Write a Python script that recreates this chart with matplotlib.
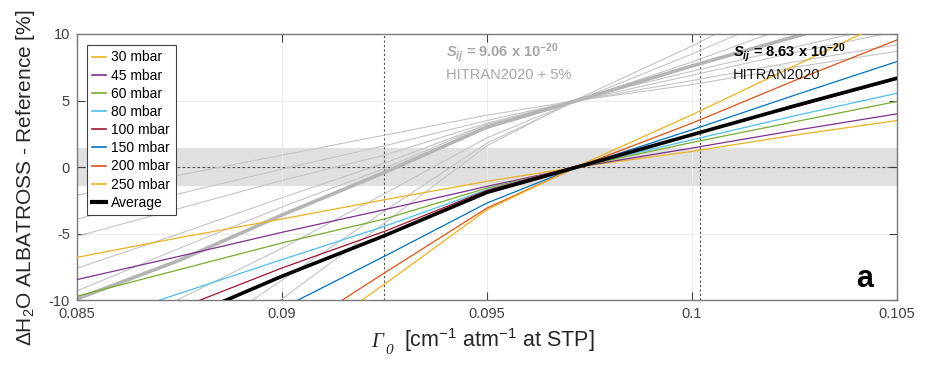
import numpy as np
import matplotlib
matplotlib.use('Agg')
import matplotlib.pyplot as plt

plt.rcParams['font.family'] = ['Liberation Sans', 'DejaVu Sans']
plt.rcParams['mathtext.fontset'] = 'custom'
plt.rcParams['mathtext.rm'] = 'Liberation Sans'
plt.rcParams['mathtext.it'] = 'Liberation Sans:italic'
plt.rcParams['mathtext.bf'] = 'Liberation Sans:bold'
plt.rcParams['mathtext.bfit'] = 'Liberation Sans:italic:bold'
plt.rcParams['axes.unicode_minus'] = False

gamma0 = [0.085, 0.0875, 0.09, 0.0925, 0.095, 0.0972, 0.1, 0.1025, 0.105]

pressures = ['30 mbar', '45 mbar', '60 mbar', '80 mbar', '100 mbar',
             '150 mbar', '200 mbar', '250 mbar']
colors = ['#EDB120', '#7E2F8E', '#77AC30', '#4DBEEE', '#A2142F',
          '#0072BD', '#D95319', '#EDB120']

# HITRAN2020 (S = 8.63e-20), delta H2O [%]
d30 = [-6.78, -5.3, -3.9, -2.45, -1.07, 0.0, 1.18, 2.4, 3.5]
d45 = [-8.45, -6.7, -4.9, -3.2, -1.45, 0.0, 1.43, 2.75, 4.0]
d60 = [-9.7, -7.7, -5.7, -3.9, -1.58, 0.0, 1.85, 3.4, 4.93]
d80 = [-12.0, -9.5, -6.95, -4.45, -1.7, 0.05, 2.05, 3.85, 5.55]
d100 = [-13.6, -10.6, -7.58, -4.83, -1.75, 0.1, 2.45, 4.5, 6.6]
d150 = [-18.5, -14.2, -10.6, -6.7, -2.7, 0.0, 2.8, 5.4, 7.93]
d200 = [-23.0, -17.8, -12.9, -7.95, -3.08, 0.0, 3.3, 6.5, 9.55]
d250 = [-25.0, -19.5, -14.2, -8.8, -3.2, 0.05, 3.93, 7.6, 11.3]
d_avg = [-14.8, -11.5, -8.2, -5.15, -1.9, 0.0, 2.43, 4.6, 6.68]

# HITRAN2020 + 5% (S = 9.06e-20)
g30 = [-2.1, -0.6, 0.9, 2.4, 3.9, 5.0, 6.2, 7.5, 8.7]
g45 = [-3.9, -2.0, -0.15, 1.6, 3.5, 5.0, 6.5, 7.9, 9.2]
g60 = [-5.2, -3.1, -1.0, 0.9, 3.3, 5.0, 6.9, 8.6, 10.2]
g80 = [-7.6, -5.0, -2.3, 0.3, 3.2, 5.1, 7.2, 9.0, 10.8]
g100 = [-9.3, -6.1, -3.0, -0.1, 3.2, 5.1, 7.6, 9.7, 11.9]
g150 = [-14.4, -9.9, -6.1, -2.0, 2.2, 5.0, 7.9, 10.7, 13.3]
g200 = [-19.2, -13.7, -8.5, -3.3, 1.8, 5.0, 8.5, 11.8, 15.0]
g250 = [-21.3, -15.5, -9.9, -4.2, 1.6, 5.1, 9.1, 13.0, 16.9]
g_avg = [-9.9, -7.0, -3.6, -0.4, 3.0, 5.0, 7.6, 9.8, 12.0]

hitran = [d30, d45, d60, d80, d100, d150, d200, d250]
hitran5 = [g30, g45, g60, g80, g100, g150, g200, g250]

band = 1.45           # grey uncertainty band [%]
gamma_marks = [0.0925, 0.1002]

fig = plt.figure(figsize=(9.25, 3.76), dpi=100)
ax = fig.add_axes([0.0832, 0.2016, 0.8865, 0.708])

ax.axhspan(-band, band, color='#E0E0E0', lw=0, zorder=0)
for yg in [-5, 5]:
    ax.axhline(yg, color='#EBEBEB', lw=0.7, zorder=0.5)
for xg in [0.09, 0.095, 0.1]:
    ax.axvline(xg, color='#EBEBEB', lw=0.7, zorder=0.5)

ax.axhline(0, color='#505050', lw=0.8, ls=(0, (2.5, 2)), zorder=1)
for xm in gamma_marks:
    ax.axvline(xm, color='#505050', lw=0.8, ls=(0, (2, 2)), zorder=1)

for g in hitran5:
    ax.plot(gamma0, g, color='#C4C4C4', lw=0.8, zorder=2)
ax.plot(gamma0, g_avg, color='#B4B4B4', lw=2.6, zorder=2.1)

for d, c, lab in zip(hitran, colors, pressures):
    ax.plot(gamma0, d, color=c, lw=0.9, label=lab, zorder=3)
ax.plot(gamma0, d_avg, color='black', lw=2.6, label='Average', zorder=4)

ax.set_xlim(0.085, 0.105)
ax.set_ylim(-10, 10)
ax.set_xticks([0.085, 0.09, 0.095, 0.1, 0.105])
ax.set_xticklabels(['0.085', '0.09', '0.095', '0.1', '0.105'])
ax.set_yticks([-10, -5, 0, 5, 10])
ax.tick_params(direction='in', length=6, width=0.8, top=True, right=True,
               labelsize=10.5, colors='#404040', pad=5)
for s in ax.spines.values():
    s.set_color('#7A7A7A')
    s.set_linewidth(1.0)

# x label: italic serif Gamma_0 followed by the units in sans
fig.text(0.401, 0.077, '\u0393', family='Liberation Serif', style='italic',
         fontsize=15, color='#262626', va='baseline')
fig.text(0.4165, 0.058, '0', family='Liberation Serif', style='italic',
         fontsize=11, color='#262626', va='baseline')
fig.text(0.4368, 0.077, '[cm$^{\\mathrm{-1}}$ atm$^{\\mathrm{-1}}$ at STP]', fontsize=15.5,
         color='#262626', va='baseline')

ax.set_ylabel(r'$\Delta$H$_2$O ALBATROSS - Reference [%]', fontsize=15, color='#262626')
ax.yaxis.set_label_coords(-0.049, 0.46)

ax.text(0.0940, 8.6, r'$\mathbfit{S}_{\mathbfit{ij}}$ = 9.06 x 10$^{\mathbf{-20}}$',
        color='#A6A6A6', fontsize=10.5, fontweight='bold', va='center')
ax.text(0.0940, 6.95, 'HITRAN2020 + 5%', color='#A6A6A6', fontsize=10.5, va='center')
ax.text(0.1010, 8.6, r'$\mathbfit{S}_{\mathbfit{ij}}$ = 8.63 x 10$^{\mathbf{-20}}$',
        color='black', fontsize=10.5, fontweight='bold', va='center')
ax.text(0.1010, 6.95, 'HITRAN2020', color='#1A1A1A', fontsize=10.5, va='center')
ax.text(0.1042, -8.4, 'a', fontsize=22, fontweight='bold', ha='center', va='center')

leg = ax.legend(loc='upper left', bbox_to_anchor=(0.012, 0.959), borderaxespad=0,
                fontsize=10, handlelength=1.0, handletextpad=0.35, labelspacing=0.3,
                borderpad=0.4, fancybox=False, framealpha=1, edgecolor='#404040')
leg.get_frame().set_linewidth(0.8)
for h in leg.get_lines():
    h.set_linewidth(1.2)
leg.get_lines()[-1].set_linewidth(3)

fig.savefig('out.png', dpi=100)
